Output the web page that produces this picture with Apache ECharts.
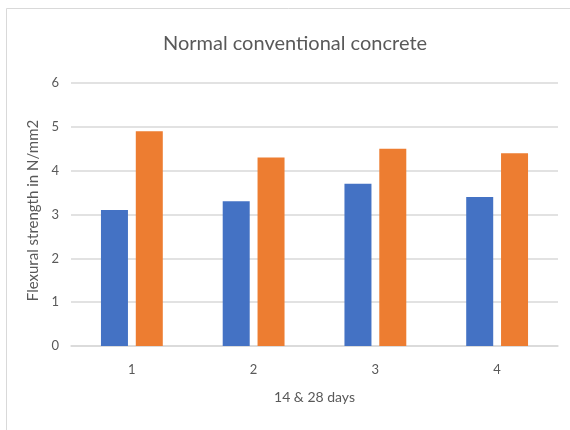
<!DOCTYPE html>
<html>
<head>
<meta charset="utf-8">
<script src="https://cdn.jsdelivr.net/npm/echarts@6/dist/echarts.min.js"></script>
<style>
  html, body { margin: 0; padding: 0; background: #ffffff; }
  #chart { width: 570px; height: 430px; }
</style>
</head>
<body>
<div id="chart"></div>
<script>
// Specimen groups along the x axis
const categories = ['1', '2', '3', '4'];
// Flexural strength (N/mm2) at 14 days and at 28 days
const strength14 = [3.1, 3.3, 3.7, 3.4];
const strength28 = [4.9, 4.3, 4.5, 4.4];
// Value axis ticks
const yTicks = [0, 1, 2, 3, 4, 5, 6];

const labelFont = 'Lato, "Open Sans", sans-serif';
const chart = echarts.init(document.getElementById('chart'), null, { renderer: 'canvas' });

chart.setOption({
  backgroundColor: '#ffffff',
  animation: false,
  graphic: [{
    type: 'rect',
    shape: { x: 6.5, y: 8.5, width: 600, height: 440 },
    style: { fill: 'none', stroke: '#d9d9d9', lineWidth: 1 },
    silent: true,
    z: -1
  }],
  title: {
    text: 'Normal conventional concrete',
    left: 290,
    textAlign: 'center',
    top: 29,
    textStyle: { fontFamily: labelFont, fontSize: 20, fontWeight: 'normal', color: '#595959' }
  },
  grid: { left: 71, right: 12, top: 83, bottom: 84 },
  xAxis: {
    type: 'category',
    data: categories,
    name: '14 & 28 days',
    nameLocation: 'middle',
    nameGap: 44,
    nameTextStyle: { fontFamily: labelFont, fontSize: 14, color: '#595959' },
    axisLine: { show: true, lineStyle: { color: '#d9d9d9', width: 1.5 } },
    axisTick: { show: false },
    axisLabel: { fontFamily: labelFont, fontSize: 13, color: '#595959', margin: 17 }
  },
  yAxis: {
    type: 'value',
    min: yTicks[0],
    max: yTicks[yTicks.length - 1],
    interval: 1,
    name: 'Flexural strength in N/mm2',
    nameLocation: 'middle',
    nameGap: 26,
    nameTextStyle: { fontFamily: labelFont, fontSize: 15, color: '#595959', padding: [0, 0, 0, 8] },
    axisLine: { show: false },
    axisTick: { show: false },
    axisLabel: { fontFamily: labelFont, fontSize: 13, color: '#595959', margin: 12 },
    splitLine: { lineStyle: { color: '#d9d9d9', width: 1.5 } }
  },
  series: [
    {
      name: '14 days',
      type: 'bar',
      data: strength14,
      barWidth: 27,
      barGap: '29%',
      itemStyle: { color: '#4472c4' }
    },
    {
      name: '28 days',
      type: 'bar',
      data: strength28,
      barWidth: 27,
      barGap: '29%',
      itemStyle: { color: '#ed7d31' }
    }
  ]
});
</script>
</body>
</html>
